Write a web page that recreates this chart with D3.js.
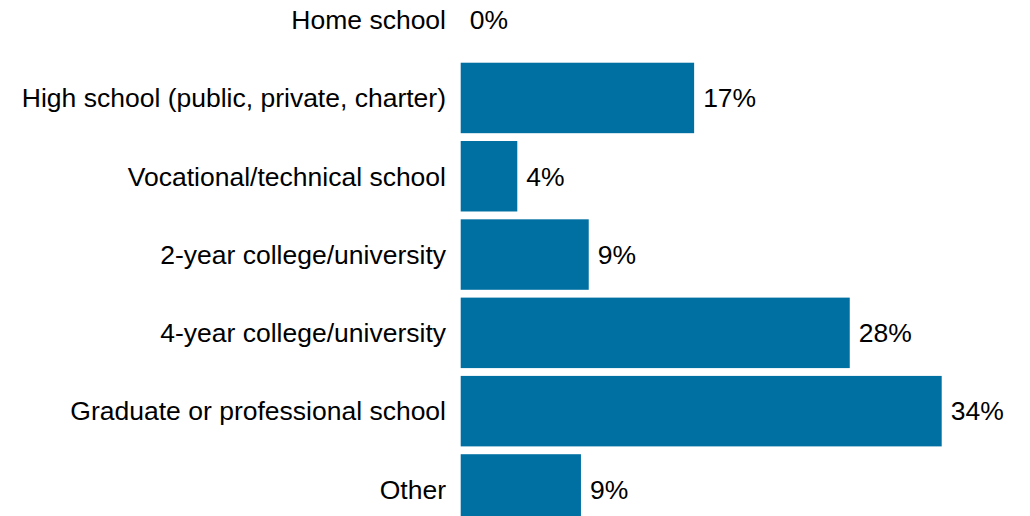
<!DOCTYPE html>
<html>
<head>
<meta charset="utf-8">
<script src="https://cdn.jsdelivr.net/npm/d3@7"></script>
<style>
  html, body { margin: 0; padding: 0; background: #fff; }
  svg { display: block; }
</style>
</head>
<body>
<svg id="chart" width="1030" height="516"></svg>
<script>
// Highest level of schooling, share of respondents (%)
const categories = [
  "Home school",
  "High school (public, private, charter)",
  "Vocational/technical school",
  "2-year college/university",
  "4-year college/university",
  "Graduate or professional school",
  "Other"
];
const shares = [0, 16.5, 4.0, 9.05, 27.5, 34.0, 8.5];

const data = categories.map((c, i) => ({ label: c, value: shares[i] }));

const svg = d3.select("#chart");
const barColor = "#006fa1";
const fontFamily = "'Liberation Sans', Arial, sans-serif";
const fontSize = "26.5px";

const x = d3.scaleLinear().domain([0, 34]).range([460.7, 941.7]);
const y = d3.scaleBand()
  .domain(categories)
  .range([-19.5, 528.6])
  .paddingInner(0.1)
  .paddingOuter(0.05);

// Category axis on the left, without domain line or ticks
const yAxis = d3.axisLeft(y).tickSize(0).tickPadding(0);
const gAxis = svg.append("g")
  .attr("transform", "translate(446,0)")
  .call(yAxis);
gAxis.select(".domain").remove();
gAxis.selectAll("text")
  .attr("fill", "#000")
  .attr("dy", "0.35em")
  .style("font-family", fontFamily)
  .style("font-size", fontSize);

// Bars
svg.append("g")
  .selectAll("rect")
  .data(data)
  .join("rect")
  .attr("x", x(0))
  .attr("y", d => y(d.label))
  .attr("width", d => x(d.value) - x(0))
  .attr("height", y.bandwidth())
  .attr("fill", barColor);

// Value labels
const fmt = v => v.toFixed(0) + "%";
svg.append("g")
  .selectAll("text")
  .data(data)
  .join("text")
  .attr("x", d => x(d.value) + 9)
  .attr("y", d => y(d.label) + y.bandwidth() / 2)
  .attr("dy", "0.35em")
  .attr("fill", "#000")
  .style("font-family", fontFamily)
  .style("font-size", fontSize)
  .text(d => fmt(d.value));
</script>
</body>
</html>
